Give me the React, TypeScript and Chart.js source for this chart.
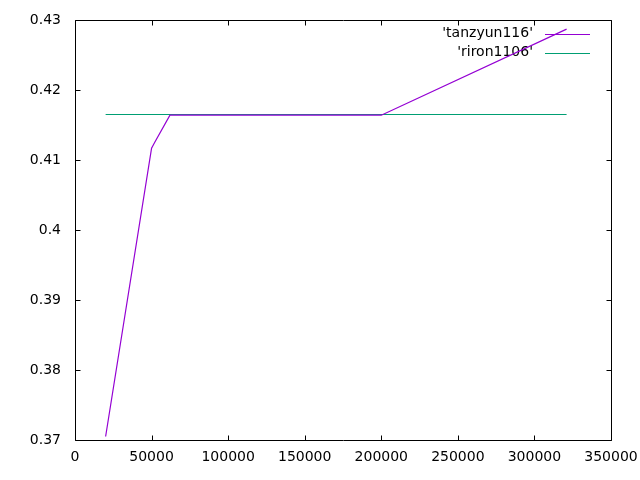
import React, { useEffect, useRef } from 'react';
import { Chart, registerables } from 'chart.js';

Chart.register(...registerables);

const tanzyunX = [20000, 50000, 52000, 62000, 100000, 150000, 200000, 321000];
const tanzyunY = [0.3705, 0.4117, 0.4125, 0.4164, 0.4164, 0.4164, 0.4164, 0.4287];
const rironX = [20000, 321000];
const rironY = [0.4165, 0.4165];

const seriesLabels = ["'tanzyun116'", "'riron1106'"];
const seriesColors = ['#9400d3', '#009e73'];

const xTickValues = [0, 50000, 100000, 150000, 200000, 250000, 300000, 350000];
const xTickLabels = ['0', '50000', '100000', '150000', '200000', '250000', '300000', '350000'];
const yTickValues = [0.37, 0.38, 0.39, 0.4, 0.41, 0.42, 0.43];
const yTickLabels = ['0.37', '0.38', '0.39', '0.4', '0.41', '0.42', '0.43'];

const FONT = '"DejaVu Sans", sans-serif';

const framePlugin = {
  id: 'gnuframe',
  beforeDatasetsDraw(chart: any) {
    const ctx = chart.ctx;
    ctx.save();
    ctx.font = `14px ${FONT}`;
    ctx.textAlign = 'right';
    ctx.textBaseline = 'middle';
    chart.data.datasets.forEach((ds: any, i: number) => {
      const y = 34 + i * 19;
      ctx.fillStyle = '#000';
      ctx.fillText(ds.label, 533, y - 1);
      ctx.strokeStyle = ds.borderColor;
      ctx.lineWidth = 1;
      ctx.beginPath();
      ctx.moveTo(545, y + 0.5);
      ctx.lineTo(590, y + 0.5);
      ctx.stroke();
    });
    ctx.restore();
  },
  afterDatasetsDraw(chart: any) {
    const ctx = chart.ctx;
    const a = chart.chartArea;
    const xs = chart.scales.x;
    const ys = chart.scales.y;
    const L = Math.round(a.left) + 0.5;
    const R = Math.round(a.right) + 0.5;
    const T = Math.round(a.top) + 0.5;
    const B = Math.round(a.bottom) + 0.5;
    const tl = 5;
    ctx.save();
    ctx.strokeStyle = '#000';
    ctx.lineWidth = 1;
    ctx.beginPath();
    ctx.rect(L, T, R - L, B - T);
    xTickValues.forEach((v) => {
      const px = Math.round(xs.getPixelForValue(v)) + 0.5;
      ctx.moveTo(px, B);
      ctx.lineTo(px, B - tl);
      ctx.moveTo(px, T);
      ctx.lineTo(px, T + tl);
    });
    yTickValues.forEach((v) => {
      const py = Math.round(ys.getPixelForValue(v)) + 0.5;
      ctx.moveTo(L, py);
      ctx.lineTo(L + tl, py);
      ctx.moveTo(R, py);
      ctx.lineTo(R - tl, py);
    });
    ctx.stroke();
    ctx.restore();
  },
};

export default function App() {
  const ref = useRef<HTMLCanvasElement | null>(null);
  useEffect(() => {
    document.body.style.margin = '0';
    const canvas = ref.current;
    if (!canvas) return;
    const chart = new Chart(canvas, {
      type: 'scatter',
      data: {
        datasets: [
          {
            label: seriesLabels[0],
            data: tanzyunX.map((x, i) => ({ x, y: tanzyunY[i] })),
            borderColor: seriesColors[0],
            backgroundColor: seriesColors[0],
            borderWidth: 1.2,
            showLine: true,
            pointRadius: 0,
            tension: 0,
          },
          {
            label: seriesLabels[1],
            data: rironX.map((x, i) => ({ x, y: rironY[i] })),
            borderColor: seriesColors[1],
            backgroundColor: seriesColors[1],
            borderWidth: 1.2,
            showLine: true,
            pointRadius: 0,
            tension: 0,
          },
        ],
      },
      options: {
        responsive: false,
        animation: false,
        layout: { padding: { top: 20, right: 29, left: 0, bottom: 0 } },
        plugins: { legend: { display: false }, tooltip: { enabled: false } },
        scales: {
          x: {
            type: 'linear',
            min: 0,
            max: 350000,
            grid: { display: false, drawTicks: false },
            border: { display: false },
            afterBuildTicks: (s: any) => {
              s.ticks = xTickValues.map((v) => ({ value: v }));
            },
            afterFit: (s: any) => {
              s.height = 40;
              s.paddingLeft = 0;
              s.paddingRight = 0;
            },
            ticks: {
              autoSkip: false,
              maxRotation: 0,
              padding: 9,
              color: '#000',
              font: { family: FONT, size: 14 },
              callback: (_v: any, i: number) => xTickLabels[i],
            },
          },
          y: {
            type: 'linear',
            min: 0.37,
            max: 0.43,
            grid: { display: false, drawTicks: false },
            border: { display: false },
            afterBuildTicks: (s: any) => {
              s.ticks = yTickValues.map((v) => ({ value: v }));
            },
            afterFit: (s: any) => {
              s.width = 75;
              s.paddingTop = 0;
              s.paddingBottom = 0;
            },
            ticks: {
              autoSkip: false,
              padding: 14,
              color: '#000',
              font: { family: FONT, size: 14 },
              callback: (_v: any, i: number) => yTickLabels[i],
            },
          },
        },
      },
      plugins: [framePlugin],
    });
    return () => chart.destroy();
  }, []);
  return (
    <div style={{ width: 640, height: 480, background: '#fff' }}>
      <canvas ref={ref} width={640} height={480} style={{ display: 'block' }} />
    </div>
  );
}
